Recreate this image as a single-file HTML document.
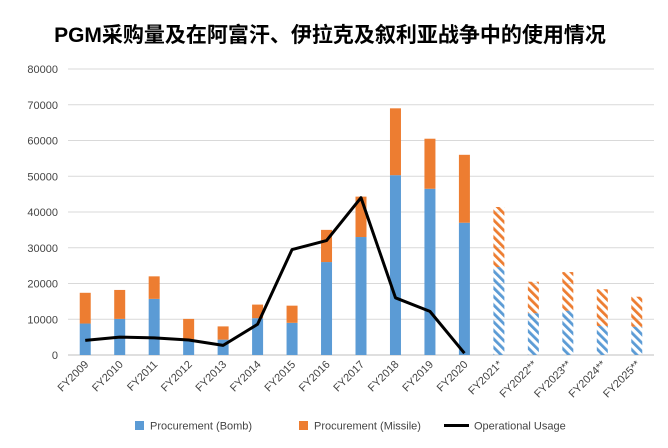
<!DOCTYPE html>
<html><head><meta charset="utf-8"><style>
body{margin:0;background:#fff;}
svg{font-family:"Liberation Sans","Noto Sans CJK SC",sans-serif;}
</style></head><body>
<svg width="668" height="443">
<defs>
<pattern id="hb" width="6" height="6" patternUnits="userSpaceOnUse" patternTransform="rotate(-45)"><rect width="2.8" height="6" fill="#5b9bd5"/></pattern>
<pattern id="ho" width="6" height="6" patternUnits="userSpaceOnUse" patternTransform="rotate(-45)"><rect width="2.8" height="6" fill="#ed7d31"/></pattern>
</defs>
<text x="330" y="42" text-anchor="middle" font-size="21" font-weight="bold" fill="#000">PGM采购量及在阿富汗、伊拉克及叙利亚战争中的使用情况</text>
<g id="grid"></g><g id="bars"></g><g id="line"></g><g id="labels"></g>
<g>
<rect x="135" y="421" width="9" height="9" fill="#5b9bd5"/>
<text x="150" y="429.5" font-size="11" fill="#444">Procurement (Bomb)</text>
<rect x="299" y="421" width="9" height="9" fill="#ed7d31"/>
<text x="314" y="429.5" font-size="11" fill="#444">Procurement (Missile)</text>
<line x1="444" y1="425.5" x2="469" y2="425.5" stroke="#000" stroke-width="3"/>
<text x="474" y="429.5" font-size="11" fill="#444">Operational Usage</text>
</g>
</svg>
<script>
const categories=["FY2009","FY2010","FY2011","FY2012","FY2013","FY2014","FY2015","FY2016","FY2017","FY2018","FY2019","FY2020","FY2021*","FY2022**","FY2023**","FY2024**","FY2025**"];
const bomb=[8800,10100,15700,4400,4300,10300,9000,26000,33000,50300,46500,37000,24600,11700,12400,8100,7900];
const missile=[8600,8100,6300,5700,3700,3800,4800,9000,11300,18700,14000,19000,16800,8800,10800,10300,8400];
const usage=[4100,5000,4800,4200,2700,8600,29500,32000,44000,16000,12200,500];
const yTicks=[0,10000,20000,30000,40000,50000,60000,70000,80000];
const projectedFrom=12;
const X0=68,X1=654,Y0=355,YMAX=80000,YTOP=69;
const step=(X1-X0)/categories.length;
const x=i=>X0+step*(i+0.5);
const y=v=>Y0-(v/YMAX)*(Y0-YTOP);
const NS="http://www.w3.org/2000/svg";
function mk(t,a,p){const e=document.createElementNS(NS,t);for(const k in a)e.setAttribute(k,a[k]);p.appendChild(e);return e;}
const G=document.getElementById('grid'),B=document.getElementById('bars'),L=document.getElementById('line'),T=document.getElementById('labels');
yTicks.forEach(v=>{
 const l=mk('line',{x1:X0,x2:X1,y1:y(v),y2:y(v),stroke:v===0?'#bfbfbf':'#d9d9d9','stroke-width':1},G);
 
 
 const t=mk('text',{x:58,y:y(v)+4,'text-anchor':'end','font-size':11,fill:'#444'},T);
 t.textContent=v;
 
 
});
const bw=11;
categories.forEach((c,i)=>{
 const proj=i>=projectedFrom;
 const r1=mk('rect',{x:x(i)-bw/2,y:y(bomb[i]),width:bw,height:y(0)-y(bomb[i]),fill:proj?'url(#hb)':'#5b9bd5'},B);
 
 
 const r2=mk('rect',{x:x(i)-bw/2,y:y(bomb[i]+missile[i]),width:bw,height:y(bomb[i])-y(bomb[i]+missile[i]),fill:proj?'url(#ho)':'#ed7d31'},B);
 
 
 const t=mk('text',{x:0,y:0,'text-anchor':'end','font-size':11,fill:'#444',transform:`translate(${x(i)+4},${Y0+10}) rotate(-45)`},T);
 t.textContent=c;
 
 
});
const pl=mk('polyline',{points:usage.map((v,i)=>x(i)+','+y(v)).join(' '),fill:'none',stroke:'#000','stroke-width':3,'stroke-linejoin':'round'},L);


</script>
</body></html>
